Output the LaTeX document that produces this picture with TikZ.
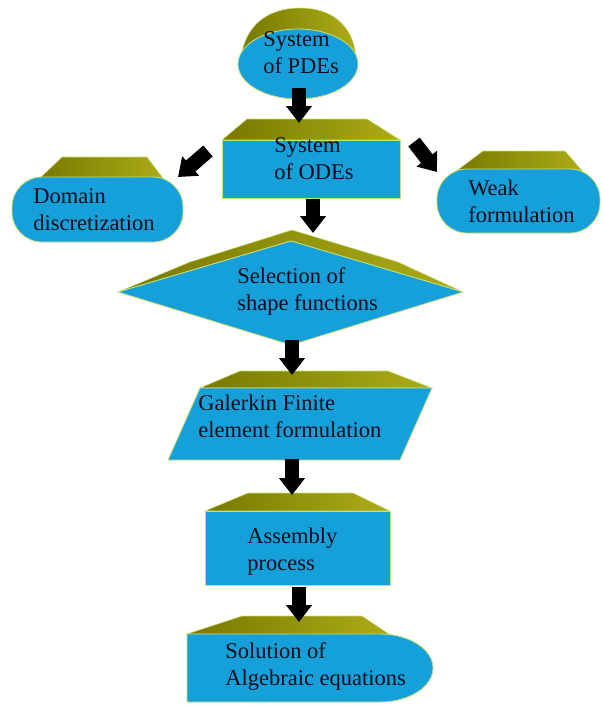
\documentclass[tikz,border=0pt]{standalone}
\usepackage{fontspec}
\setmainfont{Liberation Serif}
\usetikzlibrary{arrows.meta}
\definecolor{faceblue}{RGB}{22, 160, 218}
\definecolor{olivedark}{RGB}{120, 120, 0}
\definecolor{olivelight}{RGB}{172, 172, 24}
\definecolor{rimgreen}{RGB}{200, 222, 120}
\definecolor{inkblack}{RGB}{12, 12, 28}

\begin{document}
\begin{tikzpicture}[
    x=0.025cm, y=-0.025cm,
    face/.style={fill=faceblue, draw=rimgreen, line width=0.6pt},
    bevel/.style={left color=olivedark, right color=olivelight, draw=rimgreen, line width=0.4pt},
    txt/.style={font=\fontsize{16}{19}\selectfont, text=inkblack, align=left, inner sep=0pt, anchor=north west},
    blockarrow/.style={draw=black, line width=0.36cm, -{Triangle[length=0.42cm, width=0.62cm]}}
]
    \useasboundingbox (0,0) rectangle (603,706);

    % system of PDEs
    \path[bevel] (241,58) .. controls (245,25) and (268,8) .. (300,8) .. controls (332,8) and (352,25) .. (356,55) -- cycle;
    \path[face] (298,64) ellipse [x radius=60, y radius=35];
    \node[txt] (pde) at (263,31.5) {System\\of PDEs};

    % system of ODEs
    \path[bevel] (247,119) -- (367,119) -- (400,140) -- (222,140) -- cycle;
    \path[face] (222,140) rectangle (400,198);
    \node[txt] (ode) at (274,137.5) {System\\of ODEs};

    % side boxes
    \path[bevel] (62,157) -- (147,157) -- (165,181) -- (38,180) -- cycle;
    \path[face, rounded corners=0.75cm] (12,177) rectangle (183,242);
    \node[txt] (dom) at (33,188.5) {Domain\\discretization};

    \path[bevel] (483,151) -- (565,151) -- (585,174) -- (455,172) -- cycle;
    \path[face, rounded corners=0.75cm] (437,169) rectangle (600,233);
    \node[txt] (weak) at (468,179.5) {Weak\\formulation};

    % shape functions
    \path[bevel] (118,292) -- (190,262) -- (292,230) -- (398,262) -- (463,292) -- (291,241) -- cycle;
    \path[face] (118,292) -- (291,241) -- (463,292) -- (291,345) -- cycle;
    \node[txt] (sel) at (237,267.5) {Selection of\\shape functions};

    % Galerkin
    \path[bevel] (240,371) -- (388,371) -- (432,388) -- (200,388) -- cycle;
    \path[face] (200,388) -- (432,388) -- (400,460) -- (168,460) -- cycle;
    \node[txt] (gal) at (198,394.5) {Galerkin Finite\\element formulation};

    % assembly
    \path[bevel] (248,493) -- (353,493) -- (390,511) -- (205,511) -- cycle;
    \path[face] (205,511) rectangle (390,585);
    \node[txt] (asm) at (247,527.5) {Assembly\\process};

    % solution
    \path[bevel] (242,616) -- (362,616) -- (392,636) -- (187,634) -- cycle;
    \path[face] (187,634) -- (380,634) arc [start angle=-90, end angle=90, x radius=53, y radius=34] -- (187,702) -- cycle;
    \node[txt] (sol) at (225,642.5) {Solution of\\Algebraic equations};

    \coordinate (pde-s) at (299,88);   \coordinate (ode-n) at (299,123);
    \coordinate (ode-w) at (208,151);  \coordinate (dom-e) at (178,177);
    \coordinate (ode-e) at (414,142);  \coordinate (weak-w) at (437,172);
    \coordinate (ode-s) at (313,199);  \coordinate (sel-n) at (313,233);
    \coordinate (sel-s) at (292,340);  \coordinate (gal-n) at (292,375);
    \coordinate (gal-s) at (292,459);  \coordinate (asm-n) at (292,495);
    \coordinate (asm-s) at (299,587);  \coordinate (sol-n) at (299,622);

    \foreach \a/\b in {pde-s/ode-n, ode-w/dom-e, ode-e/weak-w, ode-s/sel-n, sel-s/gal-n, gal-s/asm-n, asm-s/sol-n}
        \draw[blockarrow] (\a) -- (\b);
\end{tikzpicture}
\end{document}
